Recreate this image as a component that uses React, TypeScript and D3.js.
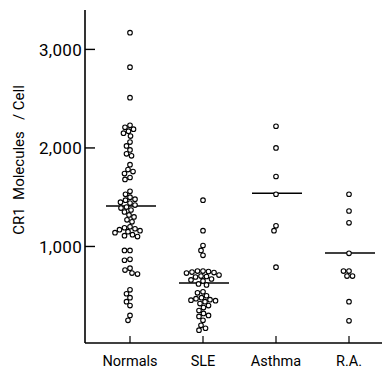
import { useEffect, useRef } from "react";
import * as d3 from "d3";

const categories = ["Normals", "SLE", "Asthma", "R.A."];

const normals = [
  3170, 2820, 2510,
  2230, 2210, 2190, 2170, 2150, 2120,
  2060, 2020, 1980, 1940, 1920,
  1830, 1780, 1760, 1740, 1700, 1680,
  1560, 1530, 1500, 1480, 1470, 1450, 1440, 1420, 1400, 1390, 1370, 1350,
  1320, 1300, 1270, 1250,
  1200, 1190, 1180, 1170, 1160, 1150, 1140, 1120, 1110, 1100,
  960, 960, 870, 860, 780, 760, 730, 720,
  560, 520, 480, 440, 400, 300, 250,
];
const sle = [
  1470, 1160, 1010, 960, 910,
  750, 750, 745, 740, 735, 730,
  710, 700, 695, 690,
  670, 660, 650, 620, 610,
  540, 530, 500, 480, 470, 460, 455, 450, 440, 420,
  400, 380, 350, 320, 300, 290, 250, 200, 170, 150,
];
const asthma = [2220, 2000, 1710, 1530, 1210, 1160, 790];
const ra = [1530, 1360, 1240, 930, 750, 750, 700, 700, 440, 245];

const medians = [1410, 630, 1540, 935];
const yTicks = [1000, 2000, 3000];

const groups = [normals, sle, asthma, ra];

// simple beeswarm: place each point at the smallest side offset that avoids overlap
function swarm(ys: number[], minDist: number) {
  const placed: { x: number; y: number }[] = [];
  const sorted = ys.map((y, i) => ({ y, i })).sort((a, b) => a.y - b.y);
  const out: number[] = new Array(ys.length).fill(0);
  for (const p of sorted) {
    let best = 0;
    for (let k = 0; k < 200; k++) {
      const off = (k % 2 === 0 ? 1 : -1) * Math.ceil(k / 2) * 0.5;
      const ok = placed.every(
        (q) => Math.hypot(q.x - off, q.y - p.y) >= minDist
      );
      if (ok) {
        best = off;
        break;
      }
    }
    placed.push({ x: best, y: p.y });
    out[p.i] = best;
  }
  return out;
}

export default function App() {
  const ref = useRef<SVGSVGElement>(null);

  useEffect(() => {
    const width = 382;
    const height = 369;
    const svg = d3.select(ref.current);
    svg.selectAll("*").remove();

    const y = d3.scaleLinear().domain([0, 3400]).range([345, 10]);
    const x = d3.scalePoint().domain(categories).range([130, 349]);
    const left = 85;
    const baseline = y(0) - 2;
    const font = "Roboto, 'Liberation Sans', sans-serif";

    const g = svg.append("g");

    // axes lines
    g.append("line")
      .attr("x1", left).attr("x2", left)
      .attr("y1", y(3400)).attr("y2", baseline)
      .attr("stroke", "#000").attr("stroke-width", 1.6);
    g.append("line")
      .attr("x1", left).attr("x2", width)
      .attr("y1", baseline).attr("y2", baseline)
      .attr("stroke", "#000").attr("stroke-width", 1.6);

    // y ticks
    g.selectAll(".yt")
      .data(yTicks)
      .enter()
      .append("line")
      .attr("x1", left).attr("x2", left + 10)
      .attr("y1", (d) => y(d)).attr("y2", (d) => y(d))
      .attr("stroke", "#000").attr("stroke-width", 1.4);
    g.selectAll(".yl")
      .data(yTicks)
      .enter()
      .append("text")
      .attr("x", left - 3)
      .attr("y", (d) => y(d))
      .attr("dy", "0.36em")
      .attr("text-anchor", "end")
      .attr("font-family", font)
      .attr("font-size", 17)
      .attr("letter-spacing", 0.3)
      .text((d) => d3.format(",")(d));

    // x ticks and labels
    g.selectAll(".xt")
      .data(categories)
      .enter()
      .append("line")
      .attr("x1", (d) => x(d)!).attr("x2", (d) => x(d)!)
      .attr("y1", baseline).attr("y2", baseline - 7)
      .attr("stroke", "#000").attr("stroke-width", 1.2);
    g.selectAll(".xl")
      .data(categories)
      .enter()
      .append("text")
      .attr("x", (d) => x(d)!)
      .attr("y", 366)
      .attr("text-anchor", "middle")
      .attr("font-family", font)
      .attr("font-size", 14.5)
      .text((d) => d);

    // y title
    g.append("text")
      .attr("transform", `translate(24,160) rotate(-90)`)
      .attr("text-anchor", "middle")
      .attr("font-family", font)
      .attr("font-size", 15)
      .attr("xml:space", "preserve")
      .style("white-space", "pre")
      .text("CR1  Molecules   / Cell");

    // medians
    g.selectAll(".med")
      .data(medians)
      .enter()
      .append("line")
      .attr("x1", (d, i) => x(categories[i])! - 24)
      .attr("x2", (d, i) => x(categories[i])! + 26)
      .attr("y1", (d) => y(d)).attr("y2", (d) => y(d))
      .attr("stroke", "#000").attr("stroke-width", 1.5);

    // points
    groups.forEach((vals, gi) => {
      const offs = swarm(vals.map((v) => y(v)), 5.2);
      g.append("g")
        .selectAll("circle")
        .data(vals)
        .enter()
        .append("circle")
        .attr("cx", (d, i) => x(categories[gi])! + offs[i])
        .attr("cy", (d) => y(d))
        .attr("r", 2.3)
        .attr("fill", "#fff")
        .attr("stroke", "#000")
        .attr("stroke-width", 1.1);
    });

    svg.attr("width", width).attr("height", height);
  }, []);

  return (
    <svg
      ref={ref}
      width={382}
      height={369}
      style={{ position: "absolute", left: 0, top: 0, background: "#fff" }}
    />
  );
}
